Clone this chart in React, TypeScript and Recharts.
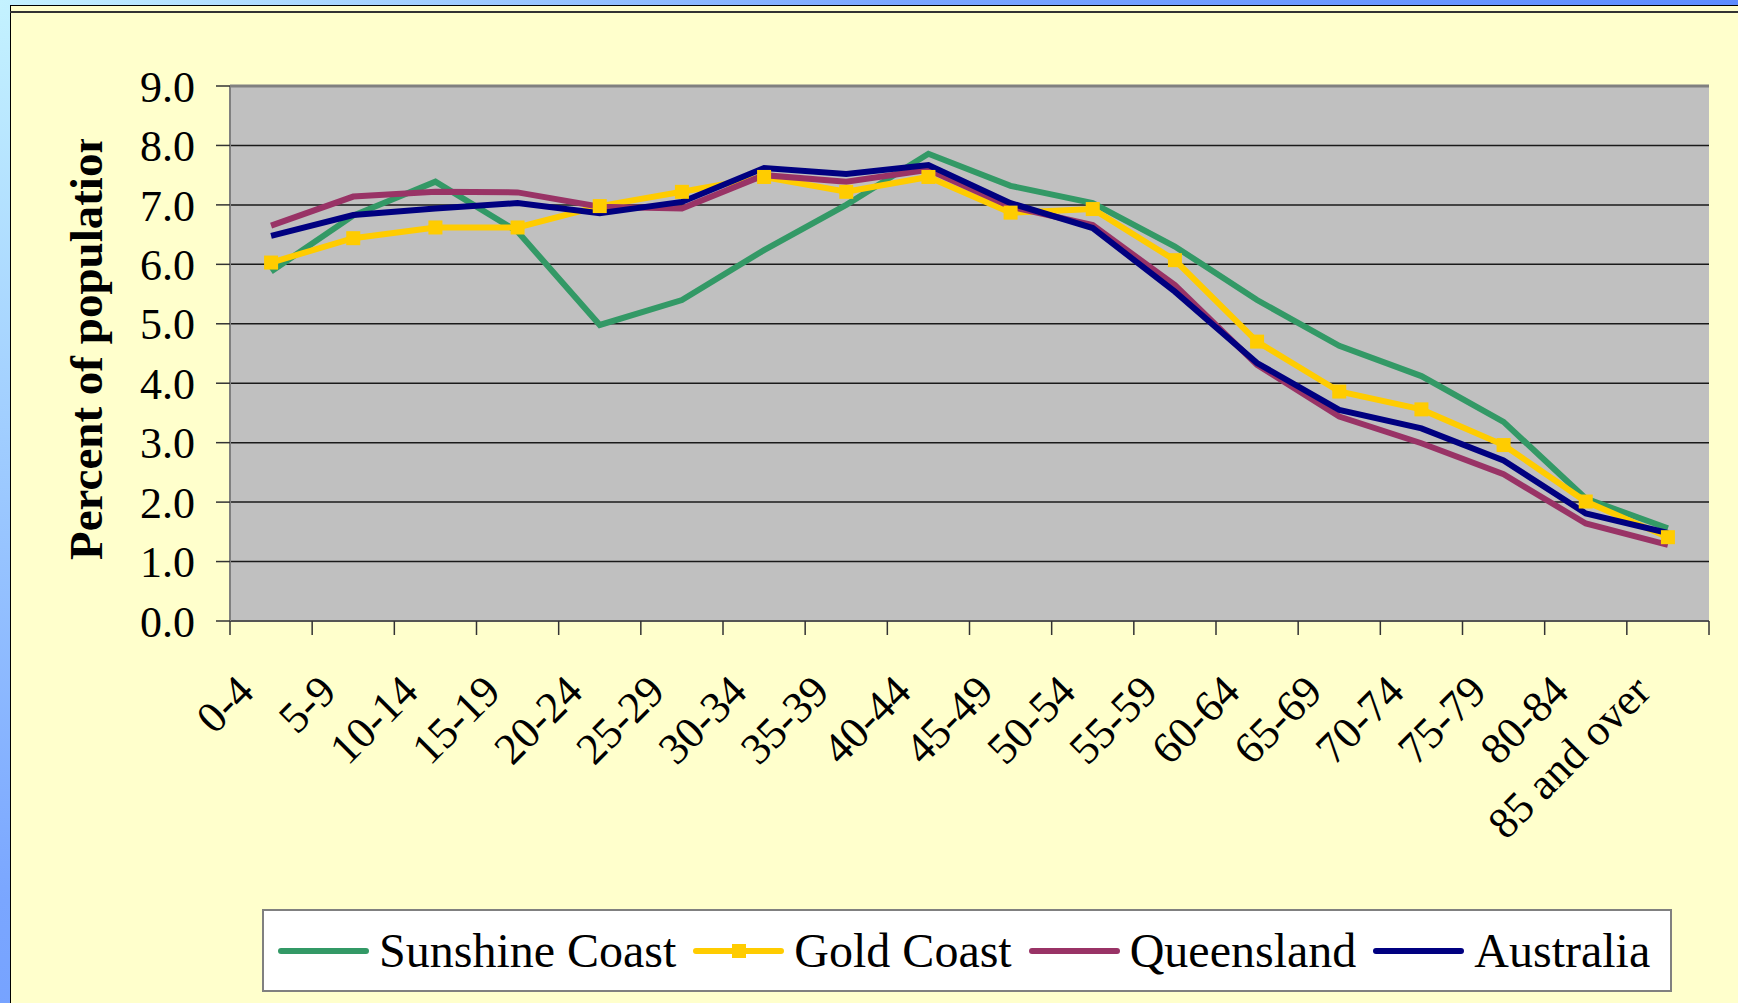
import React from "react";
import { LineChart, Line, XAxis, YAxis, CartesianGrid, Legend, ReferenceLine } from "recharts";

const CATEGORIES = [
  "0-4", "5-9", "10-14", "15-19", "20-24", "25-29", "30-34", "35-39", "40-44",
  "45-49", "50-54", "55-59", "60-64", "65-69", "70-74", "75-79", "80-84", "85 and over",
];
const SUNSHINE = [5.88, 6.82, 7.39, 6.55, 4.98, 5.4, 6.24, 7.0, 7.86, 7.32, 7.03, 6.3, 5.4, 4.63, 4.12, 3.35, 2.06, 1.56];
const GOLD = [6.03, 6.44, 6.62, 6.62, 6.98, 7.22, 7.47, 7.22, 7.47, 6.87, 6.93, 6.07, 4.7, 3.86, 3.56, 2.96, 2.01, 1.41];
const QUEENSLAND = [6.65, 7.14, 7.22, 7.21, 6.97, 6.94, 7.5, 7.39, 7.59, 6.97, 6.66, 5.65, 4.31, 3.44, 2.99, 2.47, 1.64, 1.28];
const AUSTRALIA = [6.48, 6.83, 6.94, 7.03, 6.86, 7.05, 7.62, 7.52, 7.67, 7.03, 6.61, 5.54, 4.34, 3.55, 3.24, 2.7, 1.81, 1.48];
const Y_TICKS = [0, 1, 2, 3, 4, 5, 6, 7, 8, 9];

const SERIF = '"Liberation Serif", "Times New Roman", serif';

const SERIES = [
  { key: "sunshine", name: "Sunshine Coast", color: "#339966", marker: false },
  { key: "gold", name: "Gold Coast", color: "#FFCC00", marker: true },
  { key: "queensland", name: "Queensland", color: "#993366", marker: false },
  { key: "australia", name: "Australia", color: "#000080", marker: false },
];

const data = CATEGORIES.map((age, i) => ({
  age,
  sunshine: SUNSHINE[i],
  gold: GOLD[i],
  queensland: QUEENSLAND[i],
  australia: AUSTRALIA[i],
}));

// label plus the Excel-style tick mark on the category boundary
function AgeTick(props: any) {
  const { x, y, payload, index, visibleTicksCount, width } = props;
  const n = visibleTicksCount || CATEGORIES.length;
  const half = width ? Number(width) / n / 2 : 41;
  const last = index === n - 1;
  return (
    <g>
      <line x1={x - half} x2={x - half} y1={y} y2={y + 14} stroke="#333" strokeWidth={1.5} />
      {last && <line x1={x + half} x2={x + half} y1={y} y2={y + 14} stroke="#333" strokeWidth={1.5} />}
      <text
        transform={`translate(${x - 15},${y + 73}) rotate(-45)`}
        textAnchor="end"
        fontSize={44}
        fontFamily={SERIF}
        fill="#000"
      >
        {payload.value}
      </text>
    </g>
  );
}

function GoldMarker(props: any) {
  const { cx, cy } = props;
  if (cx == null || cy == null) return null;
  return <rect x={cx - 7} y={cy - 7} width={14} height={14} fill="#FFCC00" />;
}

function YTitle() {
  return (
    <g>
      <defs>
        <clipPath id="ytitle-clip">
          <rect x={0} y={139} width={200} height={600} />
        </clipPath>
      </defs>
      <g clipPath="url(#ytitle-clip)">
        <text
          transform="translate(102,560) rotate(-90)"
          textAnchor="start"
          fontSize={47}
          fontWeight="bold"
          fontFamily={SERIF}
          fill="#000"
        >
          Percent of population
        </text>
      </g>
    </g>
  );
}

function LegendBox() {
  return (
    <div
      style={{
        boxSizing: "border-box",
        width: 1410,
        height: 83,
        background: "#fff",
        border: "2px solid #808080",
        display: "flex",
        alignItems: "center",
        paddingLeft: 14,
        fontFamily: SERIF,
        fontSize: 48,
        color: "#000",
      }}
    >
      {SERIES.map((s) => (
        <div key={s.key} style={{ display: "flex", alignItems: "center", marginRight: 17 }}>
          <svg width={91} height={20} style={{ display: "block" }}>
            <line x1={3} x2={88} y1={10} y2={10} stroke={s.color} strokeWidth={6} strokeLinecap="round" />
            {s.marker && <rect x={39} y={3} width={14} height={14} fill={s.color} />}
          </svg>
          <span style={{ marginLeft: 10, lineHeight: 1, whiteSpace: "nowrap" }}>{s.name}</span>
        </div>
      ))}
    </div>
  );
}

export default function App() {
  return (
    <div
      style={{
        position: "absolute",
        left: 0,
        top: 0,
        width: 1738,
        height: 1003,
        overflow: "hidden",
        background: "radial-gradient(circle at 0 0, #c4f2ff 0px, #7aa6ff 900px, #5b8aff 1800px)",
      }}
    >
      <div
        style={{
          position: "absolute",
          left: 10,
          top: 5,
          right: 0,
          bottom: 0,
          background: "#FFFFCC",
          borderLeft: "1.5px solid #000",
          borderTop: "1px solid #000",
        }}
      />
      <div style={{ position: "absolute", left: 10, top: 11, right: 0, height: 2, background: "#333" }} />
      <div style={{ position: "absolute", left: 0, top: 0 }}>
        <LineChart width={1738} height={1003} data={data} margin={{ top: 86, right: 29, bottom: 322, left: 30 }}>
          <CartesianGrid vertical={false} stroke="#1a1a1a" strokeWidth={1.5} fill="#C0C0C0" fillOpacity={1} />
          <XAxis
            dataKey="age"
            scale="band"
            interval={0}
            height={60}
            tickLine={false}
            tickSize={0}
            tickMargin={0}
            axisLine={{ stroke: "#555", strokeWidth: 2 }}
            tick={<AgeTick />}
          />
          <YAxis
            width={200}
            type="number"
            domain={[0, 9]}
            ticks={Y_TICKS}
            interval={0}
            tickFormatter={(v) => Number(v).toFixed(1)}
            tick={{ fontSize: 44, fill: "#000", fontFamily: SERIF }}
            tickSize={14}
            tickMargin={21}
            tickLine={{ stroke: "#333", strokeWidth: 1.5 }}
            axisLine={{ stroke: "#808080", strokeWidth: 2 }}
            label={() => <YTitle />}
          />
          <YAxis
            yAxisId="right"
            orientation="right"
            width={0}
            domain={[0, 9]}
            tick={false}
            tickLine={false}
            axisLine={{ stroke: "#808080", strokeWidth: 3 }}
          />
          <ReferenceLine y={9} stroke="#808080" strokeWidth={3} />
          <Legend
            layout="vertical"
            align="center"
            verticalAlign="middle"
            content={() => <LegendBox />}
            wrapperStyle={{ left: 262, top: 909, width: 1410, height: 83 }}
          />
          {SERIES.map((s) => (
            <Line
              key={s.key}
              type="linear"
              dataKey={s.key}
              name={s.name}
              stroke={s.color}
              strokeWidth={6}
              dot={false}
              activeDot={false}
              isAnimationActive={false}
            />
          ))}
          <Line
            type="linear"
            dataKey="gold"
            stroke="none"
            legendType="none"
            dot={<GoldMarker />}
            activeDot={false}
            isAnimationActive={false}
          />
        </LineChart>
      </div>
    </div>
  );
}
